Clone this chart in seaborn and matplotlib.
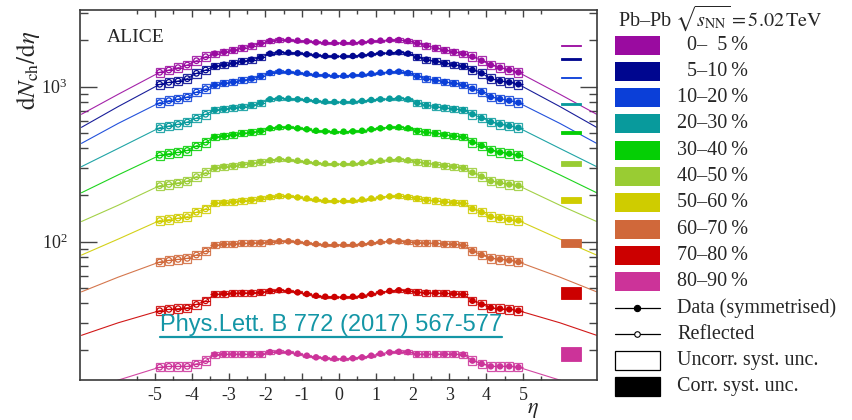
import numpy as np
import pandas as pd
import matplotlib
matplotlib.use("Agg")
import matplotlib.pyplot as plt
from matplotlib.patches import Rectangle
from matplotlib.lines import Line2D
from matplotlib.ticker import FixedLocator, LogLocator, NullFormatter, FuncFormatter, LogFormatterMathtext
import seaborn as sns

# ---------------------------------------------------------------------------
# Pb-Pb sqrt(s_NN) = 5.02 TeV, dN_ch/deta per centrality class (symmetrised)
# ---------------------------------------------------------------------------
centralities = ["0–\u20075\u2009%", "5–10\u2009%", "10–20\u2009%", "20–30\u2009%", "30–40\u2009%",
                "40–50\u2009%", "50–60\u2009%", "60–70\u2009%", "70–80\u2009%", "80–90\u2009%"]
colors = ["#9a0ba0", "#00068f", "#0b3fd8", "#089a9c", "#05cf05",
          "#99cc33", "#cfcc00", "#d0683a", "#cc0000", "#cc3399"]

# bin centres for eta >= 0 (bin width 0.25)
eta_bins = [0.125, 0.375, 0.625, 0.875, 1.125, 1.375, 1.625, 1.875, 2.125, 2.375,
            2.625, 2.875, 3.125, 3.375, 3.625, 3.875, 4.125, 4.375, 4.625, 4.875]
bin_width = 0.25
# negative-eta bins beyond this are not measured; they are shown reflected
reflect_beyond = 3.5

dndeta_0_5 = [1920, 1925, 1933, 1962, 1982, 2001, 2001, 1972, 1905, 1840,
              1777, 1717, 1675, 1634, 1562, 1472, 1380, 1327, 1282, 1238]
dndeta_5_10 = [1570, 1578, 1594, 1618, 1642, 1658, 1666, 1634, 1547, 1494,
               1458, 1415, 1387, 1353, 1282, 1220, 1127, 1088, 1067, 1036]
dndeta_10_20 = [1178, 1184, 1196, 1214, 1232, 1244, 1250, 1226, 1166, 1127,
                1099, 1072, 1051, 1025, 971, 924, 858, 833, 813, 789]
dndeta_20_30 = [797, 801, 809, 821, 829, 837, 841, 829, 785, 758,
                743, 732, 718, 707, 664, 628, 592, 572, 558, 544]
dndeta_30_40 = [513, 515, 520, 531, 539, 547, 547, 539, 518, 508,
                500, 490, 481, 474, 438, 416, 388, 377, 370, 361]
dndeta_40_50 = [317, 319, 322, 328, 333, 338, 340, 335, 327, 320,
                315, 309, 305, 299, 279, 263, 246, 240, 234, 230]
dndeta_50_60 = [183, 184, 187, 190, 193, 196, 197, 194, 190, 186,
                184, 181, 179, 177, 163, 155, 145, 142, 139, 137]
dndeta_60_70 = [95.7, 95.7, 96.6, 98.1, 99.6, 100.6, 100.6, 99.6, 98.6, 98.1,
                97.6, 96.6, 96.2, 94.8, 87.1, 82.1, 78.1, 76.9, 75.8, 74.0]
dndeta_70_80 = [44.0, 44.2, 44.8, 46.0, 47.1, 48.1, 48.6, 48.1, 47.1, 46.9,
                46.7, 46.4, 46.2, 45.7, 41.6, 39.4, 37.5, 37.0, 36.6, 35.9]
dndeta_80_90 = [17.6, 17.7, 17.95, 18.4, 18.95, 19.3, 19.5, 19.4, 18.8, 18.8,
                18.8, 18.8, 18.8, 18.7, 17.1, 16.3, 15.7, 15.7, 15.7, 15.5]
dndeta = [dndeta_0_5, dndeta_5_10, dndeta_10_20, dndeta_20_30, dndeta_30_40,
          dndeta_40_50, dndeta_50_60, dndeta_60_70, dndeta_70_80, dndeta_80_90]

# uncorrelated systematic uncertainty (relative) per eta bin
uncorr_syst = [0.015, 0.015, 0.015, 0.015, 0.015, 0.015, 0.025, 0.025, 0.045, 0.045,
               0.045, 0.045, 0.045, 0.045, 0.065, 0.065, 0.065, 0.065, 0.065, 0.065]

# fit function values outside the measured range
fit_eta = [6.0, 7.0]
fit_at_6 = [894, 745, 580, 400, 270, 172, 104, 59.1, 30.0, 12.8]
fit_at_7 = [664, 547, 431, 305, 207, 135, 82, 47.5, 24.9, 10.8]

# correlated systematic uncertainty markers
corr_eta = 6.31
corr_width = 0.53
corr_level = [1839, 1509, 1144, 773, 508, 319, 186, 98.5, 46.4, 18.8]
corr_rel = [0.0074, 0.0097, 0.0127, 0.0172, 0.025, 0.0355, 0.046, 0.061, 0.093, 0.11]

# ---------------------------------------------------------------------------
rows, line_rows = [], []
for cent, vals in zip(centralities, dndeta):
    for e, v, u in zip(eta_bins, vals, uncorr_syst):
        rows.append(dict(cent=cent, eta=e, val=v, unc=u, kind="data"))
        kind = "reflected" if e > reflect_beyond else "data"
        rows.append(dict(cent=cent, eta=-e, val=v, unc=u, kind=kind))
df = pd.DataFrame(rows)

for cent, f6, f7, vals in zip(centralities, fit_at_6, fit_at_7, dndeta):
    for e, v in zip(fit_eta, [f6, f7]):
        line_rows.append(dict(cent=cent, eta=e, val=v))
        line_rows.append(dict(cent=cent, eta=-e, val=v))
line_df = pd.concat([pd.DataFrame(line_rows), df[["cent", "eta", "val"]]], ignore_index=True)

palette = dict(zip(centralities, colors))

sns.set_theme(style="ticks")
plt.rcParams["font.family"] = ["Liberation Serif", "DejaVu Serif"]
plt.rcParams["mathtext.fontset"] = "stix"
plt.rcParams["axes.unicode_minus"] = False

W, H = 853, 420
fig = plt.figure(figsize=(W / 100, H / 100), dpi=100)
ax = fig.add_axes([80 / W, 40 / H, 517 / W, 370 / H])


def px(x, y):
    return x / W, 1 - y / H


# fit curves
sns.lineplot(data=line_df, x="eta", y="val", hue="cent", palette=palette,
             hue_order=centralities, estimator=None, sort=True, legend=False,
             linewidth=0.8, alpha=0.9, ax=ax, zorder=1)

# uncorrelated systematic boxes and bin-width bars
box_w = 0.22
for cent in centralities:
    col = palette[cent]
    sub = df[df.cent == cent]
    for e, v, u in zip(sub.eta, sub.val, sub.unc):
        ax.add_patch(Rectangle((e - box_w / 2, v / (1 + u)), box_w, v * (1 + u) - v / (1 + u),
                               fill=False, edgecolor=col, linewidth=0.9, alpha=0.85, zorder=2))
    ax.errorbar(sub.eta, sub.val, xerr=bin_width / 2, fmt="none", ecolor=col,
                elinewidth=0.8, zorder=3)

# measured (filled) and reflected (open) points
sns.scatterplot(data=df[df.kind == "data"], x="eta", y="val", hue="cent", palette=palette,
                hue_order=centralities, s=22, linewidth=0, legend=False, ax=ax, zorder=4)
sns.scatterplot(data=df[df.kind == "reflected"], x="eta", y="val", hue="cent", palette=palette,
                hue_order=centralities, s=16, legend=False, ax=ax, zorder=4)
refl = ax.collections[-1]
refl.set_edgecolors(refl.get_facecolors())
refl.set_facecolors("none")
refl.set_linewidth(0.9)

# correlated systematic uncertainty bands at the right
lo = [c / (1 + r) for c, r in zip(corr_level, corr_rel)]
hi = [c * (1 + r) for c, r in zip(corr_level, corr_rel)]
ax.bar([corr_eta] * len(corr_level), np.subtract(hi, lo), bottom=lo, width=corr_width,
       color=colors, edgecolor=colors, linewidth=0.6, zorder=3)

ax.set_yscale("log")
ax.set_xlim(-7.04, 7.01)
ax.set_ylim(12.82, 3125)
ax.set_xlabel("")
ax.set_ylabel("")

ax.xaxis.set_major_locator(FixedLocator(list(range(-5, 6))))
ax.xaxis.set_minor_locator(FixedLocator([k + 0.5 for k in range(-6, 6)]))
ax.xaxis.set_major_formatter(FuncFormatter(lambda v, p: f"{int(round(v))}"))
ax.yaxis.set_major_locator(LogLocator(base=10))
ax.yaxis.set_minor_locator(LogLocator(base=10, subs=np.arange(2, 10)))
ax.yaxis.set_minor_formatter(NullFormatter())
ax.yaxis.set_major_formatter(LogFormatterMathtext())

tick_col = "#444444"
ax.tick_params(axis="x", which="major", direction="in", length=5, width=1.0, top=True,
               bottom=True, pad=5, labelsize=13, color=tick_col)
ax.tick_params(axis="x", which="minor", direction="in", length=3, width=1.0, top=True,
               bottom=True, color=tick_col)
ax.tick_params(axis="y", which="major", direction="in", length=12, width=1.0, left=True,
               right=True, pad=9, labelsize=13, color=tick_col)
ax.tick_params(axis="y", which="minor", direction="in", length=6, width=1.0, left=True,
               right=True, color=tick_col)
for s in ax.spines.values():
    s.set_color("#3a3a3a")
    s.set_linewidth(1.2)

# axis titles and labels
fig.text(*px(28, 70), r"$\mathrm{d}N_{\mathrm{ch}}/\mathrm{d}\eta$", rotation=90,
         ha="center", va="center", fontsize=18)
fig.text(*px(533, 411), r"$\eta$", ha="center", va="center", fontsize=16)
fig.text(*px(107, 38), "ALICE", ha="left", va="center", fontsize=14)

ref_txt = fig.text(*px(160, 325), "Phys.Lett. B 772 (2017) 567-577", color="#1496a6",
                   family="Liberation Sans", fontsize=17, ha="left", va="center")
fig.canvas.draw()
bb = ref_txt.get_window_extent(fig.canvas.get_renderer())
fig.add_artist(Line2D([bb.x0 / W, bb.x1 / W], [(bb.y0 - 1) / H, (bb.y0 - 1) / H],
                      color="#1496a6", linewidth=1.6, transform=fig.transFigure))

# legend
fs_leg = 14.5
fig.text(*px(618, 18), r"Pb–Pb $\sqrt{s_{\mathrm{NN}}} = 5.02\,\mathrm{TeV}$",
         ha="left", va="center", fontsize=fs_leg)
row0, dy = 45, 26.3
sw_x0, sw_w, sw_h = 615, 45, 19
for i, (lab, col) in enumerate(zip(centralities, colors)):
    yc = row0 + i * dy
    fig.add_artist(Rectangle(px(sw_x0, yc + sw_h / 2), sw_w / W, sw_h / H,
                             transform=fig.transFigure, facecolor=col, edgecolor="none"))
    fig.text(*px(748, yc), lab, ha="right", va="center", fontsize=fs_leg)

extra = ["Data (symmetrised)", "Reflected", "Uncorr. syst. unc.", "Corr. syst. unc."]
for j, lab in enumerate(extra):
    yc = row0 + (len(centralities) + j) * dy
    if j < 2:
        fig.add_artist(Line2D([sw_x0 / W, (sw_x0 + sw_w) / W], [1 - yc / H] * 2,
                              color="black", linewidth=0.9, transform=fig.transFigure))
        fig.add_artist(Line2D([(sw_x0 + sw_w / 2) / W], [1 - yc / H], marker="o",
                              markersize=4.5 if j == 0 else 4,
                              markerfacecolor="black" if j == 0 else "white",
                              markeredgecolor="black", markeredgewidth=0.8,
                              linestyle="none", transform=fig.transFigure))
    else:
        fig.add_artist(Rectangle(px(sw_x0, yc + sw_h / 2), sw_w / W, sw_h / H,
                                 transform=fig.transFigure,
                                 facecolor="white" if j == 2 else "black",
                                 edgecolor="black", linewidth=0.9))
    fig.text(*px(677, yc), lab, ha="left", va="center", fontsize=fs_leg)

fig.savefig("out.png", dpi=100)
